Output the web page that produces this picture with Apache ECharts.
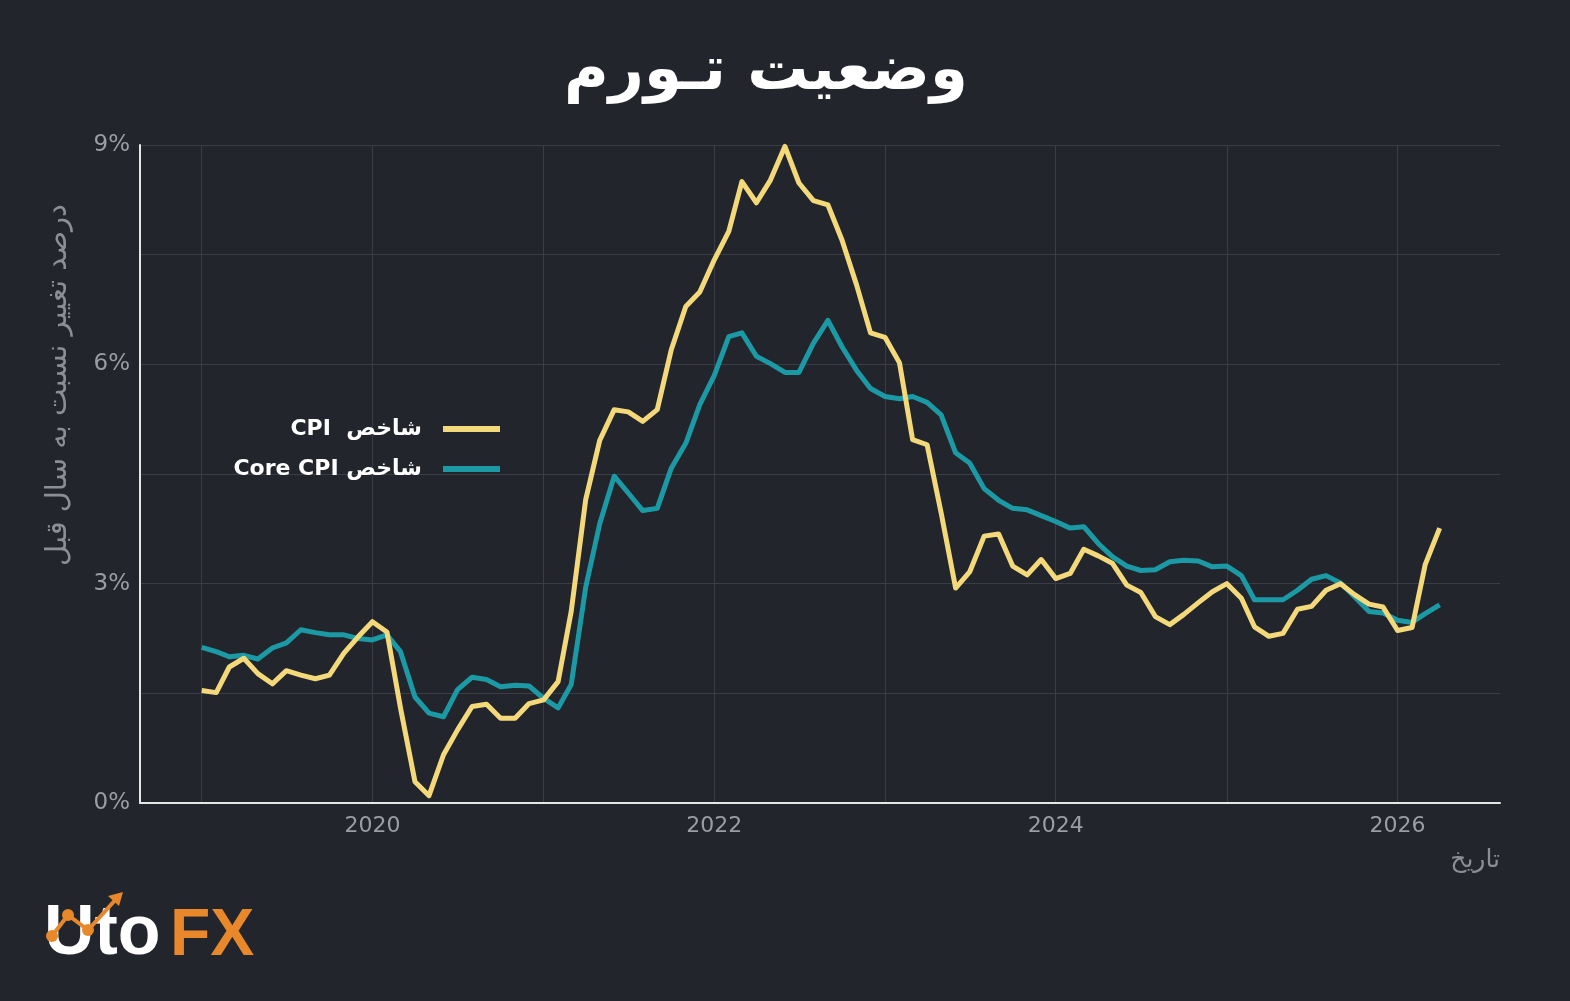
<!DOCTYPE html>
<html>
<head>
<meta charset="utf-8">
<script src="https://cdn.jsdelivr.net/npm/echarts@6/dist/echarts.min.js"></script>
<style>
html, body {margin: 0; padding: 0; background: #23252c;}
#chart {width: 1570px; height: 1001px;}
</style>
</head>
<body>
<div id="chart"></div>
<script>
var dom_chart = document.getElementById("chart");
var chart_inflation = echarts.init(dom_chart);

// monthly, Jan 2019 .. Apr 2026
var firstYear = 2019;
var monthCount = 88;

var cpiValues = [
    1.54, 1.51, 1.86, 1.98, 1.77, 1.63, 1.81, 1.75, 1.70, 1.75, 2.05, 2.27,
    2.48, 2.34, 1.30, 0.29, 0.10, 0.66, 1.00, 1.32, 1.35, 1.16, 1.16, 1.36,
    1.41, 1.66, 2.62, 4.15, 4.96, 5.38, 5.35, 5.22, 5.38, 6.20, 6.79, 6.99,
    7.43, 7.82, 8.50, 8.21, 8.52, 8.98, 8.48, 8.24, 8.18, 7.70, 7.09, 6.43,
    6.37, 6.02, 4.97, 4.90, 3.97, 2.94, 3.16, 3.65, 3.68, 3.24, 3.12, 3.33,
    3.07, 3.14, 3.47, 3.38, 3.28, 2.98, 2.88, 2.55, 2.44, 2.58, 2.74, 2.89,
    3.00, 2.80, 2.41, 2.28, 2.32, 2.65, 2.69, 2.91, 3.00, 2.85, 2.72, 2.68,
    2.36, 2.40, 3.26, 3.76
];

var coreValues = [
    2.13, 2.07, 2.00, 2.02, 1.97, 2.12, 2.19, 2.37, 2.33, 2.30, 2.30, 2.25,
    2.23, 2.30, 2.07, 1.45, 1.23, 1.18, 1.55, 1.72, 1.69, 1.59, 1.61, 1.60,
    1.43, 1.30, 1.62, 2.95, 3.82, 4.47, 4.24, 4.00, 4.03, 4.58, 4.92, 5.45,
    5.85, 6.38, 6.43, 6.11, 6.01, 5.89, 5.89, 6.29, 6.60, 6.24, 5.92, 5.67,
    5.56, 5.53, 5.56, 5.48, 5.31, 4.79, 4.65, 4.30, 4.14, 4.03, 4.01, 3.93,
    3.85, 3.76, 3.78, 3.55, 3.37, 3.24, 3.18, 3.19, 3.30, 3.32, 3.31, 3.23,
    3.24, 3.11, 2.78, 2.78, 2.78, 2.91, 3.06, 3.11, 3.01, 2.82, 2.62, 2.60,
    2.50, 2.47, 2.59, 2.71
];

var yLabeled = [0, 3, 6, 9];
var xLabeledYears = [2020, 2022, 2024, 2026];

var cpiName = 'CPI  شاخص';
var coreName = 'Core CPI شاخص';

function monthDates(){
    var out = [];
    for (var i = 0; i < monthCount; i++) {
        var y = firstYear + Math.floor(i / 12);
        var m = (i % 12) + 1;
        out.push(y + '-' + (m < 10 ? '0' + m : m) + '-01');
    }
    return out;
}

function pairUp(dates, vals){
    var out = [];
    for (var i = 0; i < vals.length; i++) {
        out.push([dates[i], vals[i]]);
    }
    return out;
}

var dates = monthDates();
var gray = '#9b9da4';
var gridColor = '#3a3d45';

var option_inflation = {
    backgroundColor: '#23252c',
    animation: false,
    useUTC: true,
    textStyle: {fontFamily: 'DejaVu Sans'},
    title: {
        text: 'وضعیت تـورم',
        left: 761, top: 38, textAlign: 'center',
        textStyle: {color: '#ffffff', fontSize: 61, fontWeight: 'bold', fontFamily: 'DejaVu Sans'}
    },
    legend: {
        orient: 'vertical', right: 1065, top: 413, align: 'right',
        icon: 'rect', itemWidth: 57, itemHeight: 6, itemGap: 18,
        data: [cpiName, coreName],
        textStyle: {color: '#ffffff', fontSize: 22, fontWeight: 'bold', fontFamily: 'DejaVu Sans', padding: [0, 16, 0, 0]}
    },
    grid: {left: 140, right: 70, top: 145, bottom: 198},
    xAxis: {
        type: 'time',
        min: '2018-08-22', max: '2026-08-08',
        minInterval: 365 * 24 * 3600 * 1000,
        maxInterval: 366 * 24 * 3600 * 1000,
        axisLine: {lineStyle: {color: '#e6e6e6', width: 2}},
        axisTick: {show: false},
        splitLine: {show: true, showMinLine: false, showMaxLine: false, lineStyle: {color: gridColor, width: 1}},
        axisLabel: {
            color: gray, fontSize: 22, margin: 12, fontFamily: 'DejaVu Sans',
            formatter: function (v) {
                var d = new Date(v);
                if (d.getUTCMonth() !== 0 || d.getUTCDate() !== 1) return '';
                var y = d.getUTCFullYear();
                return xLabeledYears.indexOf(y) >= 0 ? String(y) : '';
            }
        }
    },
    yAxis: {
        type: 'value', min: 0, max: 9, interval: 1.5,
        axisLine: {show: true, lineStyle: {color: '#e6e6e6', width: 2}},
        axisTick: {show: false},
        splitLine: {show: true, lineStyle: {color: gridColor, width: 1}},
        axisLabel: {
            color: gray, fontSize: 23, margin: 10, fontFamily: 'DejaVu Sans',
            formatter: function (v) {
                return yLabeled.indexOf(v) >= 0 ? v + '%' : '';
            }
        }
    },
    graphic: [
        {
            type: 'text', x: 58, y: 385, rotation: Math.PI / 2,
            style: {text: 'درصد تغییر نسبت به سال قبل', fill: '#8c8e95', font: '29px "DejaVu Sans"', align: 'center', verticalAlign: 'middle'}
        },
        {
            type: 'text', x: 1500, y: 860,
            style: {text: 'تاریخ', fill: '#8c8e95', font: '25px "DejaVu Sans"', align: 'right', verticalAlign: 'middle'}
        },
        // logo
        {
            type: 'text', x: 44, y: 970,
            style: {text: 'Uto', fill: '#ffffff', font: 'bold 70px "Liberation Sans"', align: 'left', verticalAlign: 'bottom'}
        },
        {
            type: 'text', x: 170, y: 970,
            style: {text: 'FX', fill: '#e8882b', font: 'bold 66px "Liberation Sans"', align: 'left', verticalAlign: 'bottom'}
        },
        {
            type: 'polyline',
            shape: {points: [[52, 936], [68, 915], [88, 930], [118, 897]]},
            style: {stroke: '#e8882b', lineWidth: 4, fill: null}
        },
        {type: 'circle', shape: {cx: 52, cy: 936, r: 6}, style: {fill: '#e8882b'}},
        {type: 'circle', shape: {cx: 68, cy: 915, r: 6}, style: {fill: '#e8882b'}},
        {type: 'circle', shape: {cx: 88, cy: 930, r: 6}, style: {fill: '#e8882b'}},
        {
            type: 'polygon',
            shape: {points: [[123, 892], [108, 896], [119, 906]]},
            style: {fill: '#e8882b'}
        }
    ],
    series: [
        {
            name: coreName, type: 'line', showSymbol: false,
            data: pairUp(dates, coreValues),
            lineStyle: {color: '#1b9aa5', width: 5, join: 'round'},
            itemStyle: {color: '#1b9aa5'}
        },
        {
            name: cpiName, type: 'line', showSymbol: false,
            data: pairUp(dates, cpiValues),
            lineStyle: {color: '#f4d97b', width: 5, join: 'round'},
            itemStyle: {color: '#f4d97b'}
        }
    ]
};

chart_inflation.setOption(option_inflation);
</script>
</body>
</html>
